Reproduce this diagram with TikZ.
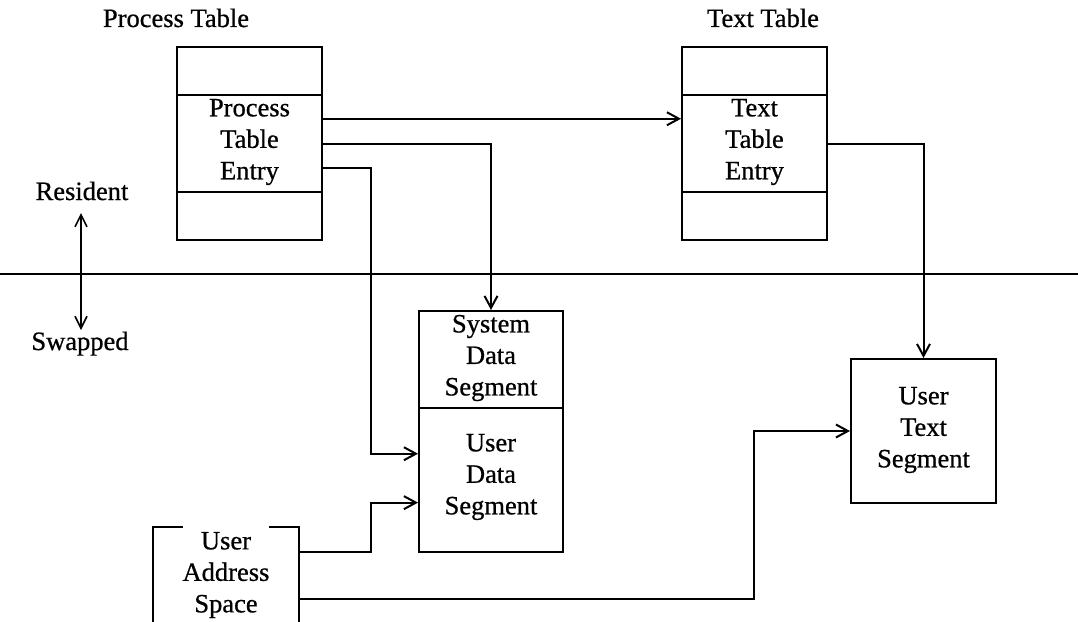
\documentclass[tikz,border=0pt]{standalone}
\usepackage{fontspec}
\setmainfont[FakeBold=0.7]{Liberation Serif}
\usetikzlibrary{arrows.meta,calc}
\begin{document}
\begin{tikzpicture}[x=1pt,y=-1pt,
  box/.style={draw,line width=2pt,inner sep=0pt,minimum width=145pt},
  txt/.style={font=\fontsize{26.5}{31.5}\selectfont,align=center,inner sep=0pt},
  conn/.style={line width=2pt,-{Straight Barb[length=12pt,width=13pt]}},
  plain/.style={line width=2pt}]
\useasboundingbox[fill=white] (0,0) rectangle (1078,621);
\clip (0,0) rectangle (1078,621);
% titles
\node[txt,anchor=base] (ptlabel) at (176,27) {Process Table};
\node[txt,anchor=base] (ttlabel) at (763,27) {Text Table};
% process table
\node[box,minimum height=48pt] (pt1) at (249.5,71) {};
\node[box,minimum height=97pt] (pte) at (249.5,143.5) {};
\node[box,minimum height=48pt] (pt3) at (249.5,216) {};
\node[txt] (ptetext) at (249.5,142) {Process\\Table\\Entry};
% text table
\node[box,minimum height=48pt] (tt1) at (754.5,71) {};
\node[box,minimum height=97pt] (tte) at (754.5,143.5) {};
\node[box,minimum height=48pt] (tt3) at (754.5,216) {};
\node[txt] (ttetext) at (754.5,142) {Text\\Table\\Entry};
% resident / swapped line
\coordinate (hl) at (0,274);
\coordinate (hr) at (1078,274);
\draw[plain] (hl) -- (hr);
\node[txt,anchor=base] (res) at (82,200) {Resident};
\node[txt,anchor=base] (swp) at (80,350) {Swapped};
\coordinate (rtop) at (81,213);
\coordinate (rbot) at (81,330);
\draw[line width=1.6pt,{Straight Barb[length=12pt,width=12pt]}-{Straight Barb[length=12pt,width=12pt]}] (rtop) -- (rbot);
% data segments
\node[box,minimum width=144pt,minimum height=97pt] (ds) at (491,359.5) {};
\node[box,minimum width=144pt,minimum height=144pt] (du) at (491,480) {};
\node[txt] (dstext) at (491,358) {System\\Data\\Segment};
\node[txt] (dutext) at (491,477) {User\\Data\\Segment};
% user text segment
\node[box,minimum height=144pt] (uts) at (923.5,431) {};
\node[txt] (utstext) at (923.5,430) {User\\Text\\Segment};
% user address space
\node[inner sep=0pt,minimum width=146pt,minimum height=110pt] (uas) at (226,582) {};
\node[txt] (uastext) at (226,575) {User\\Address\\Space};
\draw[plain] (uas.south west) -- (uas.north west) -- ++(30,0);
\draw[plain] (uas.south east) -- (uas.north east) -- ++(-30,0);
% connectors
\coordinate (bxa) at (370.5,0);
\coordinate (bxb) at (754,0);
\path ($(pte.north east)!0.25!(pte.south east)$) coordinate (p1)
      ($(pte.north east)!0.75!(pte.south east)$) coordinate (p3)
      ($(tte.north west)!0.25!(tte.south west)$) coordinate (t1)
      ($(du.north west)!0.32!(du.south west)$) coordinate (d1)
      ($(du.north west)!0.655!(du.south west)$) coordinate (d2)
      ([yshift=-25pt]uas.north east) coordinate (u1)
      ([yshift=-72pt]uas.north east) coordinate (u2);
\draw[conn] (p1) -- (t1);
\draw[conn] (pte.east) -| (ds.north);
\draw[conn] (p3) -- (p3 -| bxa) |- (d1);
\draw[conn] (u1) -- (u1 -| bxa) |- (d2);
\draw[conn] (u2) -- (u2 -| bxb) |- (uts.west);
\draw[conn] (tte.east) -| (uts.north);
\end{tikzpicture}
\end{document}
